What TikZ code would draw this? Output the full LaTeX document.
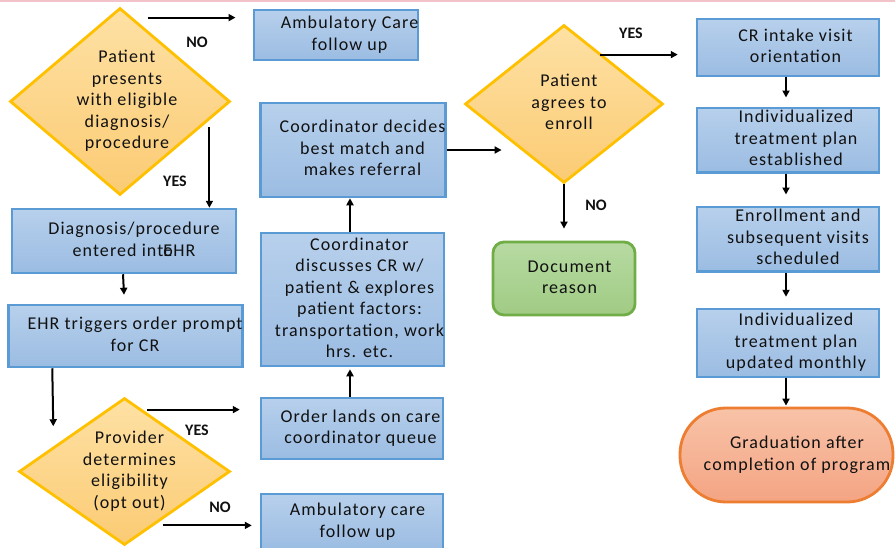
\documentclass[tikz,border=0pt]{standalone}
\usepackage{fontspec}
\setmainfont{Carlito}[LetterSpace=6]
\newfontfamily\lblfont{Carlito}
\usetikzlibrary{shapes.geometric,arrows.meta,calc}
\definecolor{bxfillA}{HTML}{B7D0EC}
\definecolor{bxfillB}{HTML}{9BBCE2}
\definecolor{bxline}{HTML}{5B9BD5}
\definecolor{dmfillA}{HTML}{FEE1A4}
\definecolor{dmfillB}{HTML}{FBCB74}
\definecolor{dmline}{HTML}{FFC000}
\definecolor{gnfillA}{HTML}{B7DAA2}
\definecolor{gnfillB}{HTML}{A0CB84}
\definecolor{gnline}{HTML}{70AD47}
\definecolor{orfillA}{HTML}{F8C3A8}
\definecolor{orfillB}{HTML}{F4A483}
\definecolor{orline}{HTML}{ED7D31}
\definecolor{topline}{HTML}{F2C4CA}
\definecolor{txtcol}{HTML}{111111}
% centred block of lines, shifted right by #1/2
\newcommand{\tb}[2][14pt]{\hspace*{#1}\begin{tabular}{@{}c@{}}#2\end{tabular}}
\tikzset{
  txt/.style={font=\fontsize{18}{21.5}\selectfont, text=txtcol, inner sep=0pt},
  bluebox/.style={txt, rectangle, draw=bxline, line width=2.5pt, top color=bxfillA, bottom color=bxfillB},
  decision/.style={diamond, draw=dmline, line width=2.8pt, top color=dmfillA, bottom color=dmfillB, inner sep=0pt},
  greenbox/.style={txt, rectangle, rounded corners=11pt, draw=gnline, line width=2.8pt, top color=gnfillA, bottom color=gnfillB},
  orangebox/.style={txt, rectangle, rounded corners=46pt, draw=orline, line width=2.8pt, top color=orfillA, bottom color=orfillB},
  arr/.style={draw=black, line width=2pt, -{Triangle[length=7pt,width=7pt]}},
  yn/.style={font=\lblfont\bfseries\fontsize{16}{18}\selectfont, text=txtcol, inner sep=0pt}
}
\begin{document}
\begin{tikzpicture}[x=1pt,y=-1pt]
\useasboundingbox (0,0) rectangle (895,547);
\fill[white] (0,0) rectangle (895,547);
\draw[topline, line width=2pt] (0,1) -- (895,1);

% left column
\node[decision, minimum width=220pt, minimum height=187pt] (d1) at (120,101.5) {};
\node[txt] (d1t) at (d1.center) {\tb[14pt]{Patient\\presents\\with eligible\\diagnosis/\\procedure}};
\node[bluebox, minimum width=164pt, minimum height=50pt] (amb1) at (336,35) {\tb[27pt]{Ambulatory Care\\follow up}};
\node[bluebox, minimum width=224pt, minimum height=64pt] (dx) at (124,241) {\tb[20pt]{Diagnosis/procedure\\entered int\rlap{o}EHR}};
\node[bluebox, minimum width=229pt, minimum height=62pt] (ehr) at (125.5,336) {\tb[19pt]{EHR triggers order prompt\\for CR}};
\node[decision, minimum width=211pt, minimum height=147pt] (d2) at (124.5,471.5) {};
\node[txt] (d2t) at (d2.center) {\tb[10pt]{Provider\\determines\\eligibility\\(opt out)}};

% middle column
\node[bluebox, minimum width=182pt, minimum height=61pt] (ord) at (352,428.5) {\tb[17pt]{Order lands on care\\coordinator queue}};
\node[bluebox, minimum width=182pt, minimum height=56pt] (amb2) at (352,522) {\tb[11pt]{Ambulatory care\\follow up}};
\node[bluebox, minimum width=181pt, minimum height=133pt] (disc) at (352.5,299.5) {\tb[14pt]{Coordinator\\discusses CR w/\\patient \& explores\\patient factors:\\transportation, work\\hrs. etc.}};
\node[bluebox, minimum width=180pt, minimum height=94pt] (dec) at (353,150) {\tb[19pt]{Coordinator decides\\best match and\\makes referral}};
\node[decision, minimum width=198pt, minimum height=158pt] (d3) at (564,104) {};
\node[txt] (d3t) at (d3.center) {\tb[10pt]{Patient\\agrees to\\enroll}};
\node[greenbox, minimum width=142pt, minimum height=73pt] (doc) at (564,278.5) {\tb[11pt]{Document\\reason}};

% right column
\node[bluebox, minimum width=182pt, minimum height=57pt] (b1) at (788,47.5) {\tb[15pt]{CR intake visit\\orientation}};
\node[bluebox, minimum width=182pt, minimum height=64pt] (b2) at (788,140) {\tb[16pt]{Individualized\\treatment plan\\established}};
\node[bluebox, minimum width=182pt, minimum height=60pt] (b3) at (788,239) {\tb[20pt]{Enrollment and\\subsequent visits\\scheduled}};
\node[bluebox, minimum width=182pt, minimum height=68pt] (b4) at (788,343) {\tb[16pt]{Individualized\\treatment plan\\updated monthly}};
\node[orangebox, minimum width=213pt, minimum height=94pt] (grad) at (786.5,455) {\tb[21pt]{Graduation after\\completion of program}};

% labels
\node[yn] (l1) at (197,42) {NO};
\node[yn] (l2) at (175,181) {YES};
\node[yn] (l3) at (197,430) {YES};
\node[yn] (l4) at (220,507) {NO};
\node[yn] (l5) at (631,33) {YES};
\node[yn] (l6) at (596,205) {NO};

% connector end points
\coordinate (s1) at ($(d1.north)+(28,11)$);
\coordinate (e1) at ($(amb1.west |- s1)+(-17,0)$);
\coordinate (s2) at ($(d1.east)+(-22,25)$);
\coordinate (s3) at ($(ehr.south west)+(45,0)$);
\coordinate (e3) at ($(ehr.south west)+(46,58)$);
\coordinate (s4) at ($(d2.north)+(22.5,13)$);
\coordinate (e4) at ($(ord.west |- s4)+(-20,0)$);
\coordinate (s5) at ($(d2.south)+(38.5,-21)$);
\coordinate (e5) at ($(amb2.west |- s5)+(-8,0)$);
\coordinate (e6) at ($(d3.west |- dec.east)+(38,0)$);
\coordinate (s7) at ($(d3.north)+(36,31)$);
\coordinate (e7) at ($(b1.west |- s7)+(-18,0)$);

% connectors
\draw[arr] (s1) -- (e1);
\draw[arr] (s2) -- (s2 |- dx.north);
\draw[arr, shorten >=9pt] ([xshift=-1pt]dx.south) -- ([xshift=-1pt]ehr.north);
\draw[arr] (s3) -- (e3);
\draw[arr] (s4) -- (e4);
\draw[arr] (s5) -- (e5);
\draw[arr, shorten >=2pt] ([xshift=-2pt]ord.north) -- ([xshift=-2pt]ord.north |- disc.south);
\draw[arr] ([xshift=-2.5pt]disc.north) -- ([xshift=-2.5pt]disc.north |- dec.south);
\draw[arr] (dec.east) -- (e6);
\draw[arr] (s7) -- (e7);
\draw[arr, shorten >=12pt] (d3.south) -- (doc.north);
\draw[arr, shorten >=9pt] ([xshift=-2pt]b1.south) -- ([xshift=-2pt]b2.north);
\draw[arr, shorten >=11pt] ([xshift=-2pt]b2.south) -- ([xshift=-2pt]b3.north);
\draw[arr, shorten >=11pt] ([xshift=-2pt]b3.south) -- ([xshift=-2pt]b4.north);
\draw[arr, shorten >=1pt] ([xshift=-2pt]b4.south) -- ([xshift=-2pt]b4.south |- grad.north);
\end{tikzpicture}
\end{document}
